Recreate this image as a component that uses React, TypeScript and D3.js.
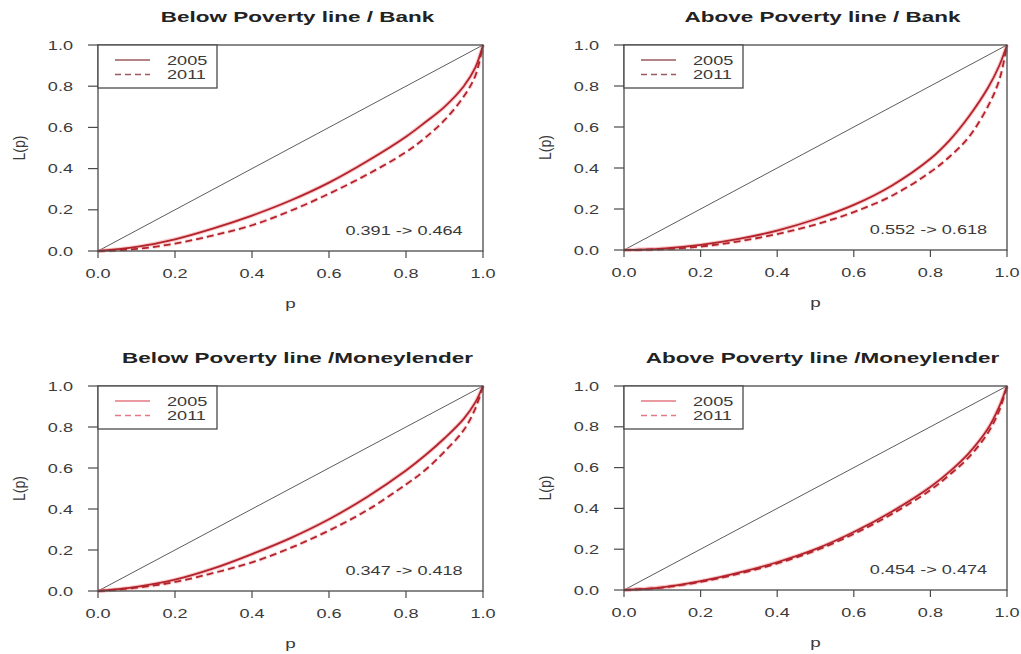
import React from "react";
import * as d3 from "d3";

// Cumulative population share p (x) shared by all Lorenz curves
const pShare = [0, 0.1, 0.2, 0.3, 0.4, 0.5, 0.6, 0.7, 0.8, 0.85, 0.9, 0.95, 0.98, 1.0];

// Lorenz curve values L(p)
const belowBank2005 = [0, 0.02, 0.057, 0.11, 0.172, 0.245, 0.332, 0.437, 0.555, 0.625, 0.7, 0.8, 0.89, 1.0];
const belowBank2011 = [0, 0.01, 0.036, 0.076, 0.125, 0.195, 0.278, 0.372, 0.48, 0.55, 0.635, 0.75, 0.85, 1.0];
const aboveBank2005 = [0, 0.007, 0.025, 0.054, 0.095, 0.15, 0.22, 0.315, 0.445, 0.535, 0.65, 0.79, 0.9, 1.0];
const aboveBank2011 = [0, 0.004, 0.017, 0.042, 0.078, 0.124, 0.185, 0.265, 0.38, 0.455, 0.55, 0.7, 0.83, 1.0];
const belowLender2005 = [0, 0.02, 0.055, 0.11, 0.18, 0.258, 0.35, 0.46, 0.588, 0.662, 0.745, 0.84, 0.92, 1.0];
const belowLender2011 = [0, 0.016, 0.044, 0.088, 0.14, 0.21, 0.295, 0.395, 0.52, 0.59, 0.68, 0.785, 0.89, 1.0];
const aboveLender2005 = [0, 0.013, 0.043, 0.085, 0.136, 0.2, 0.284, 0.385, 0.505, 0.58, 0.67, 0.79, 0.9, 1.0];
const aboveLender2011 = [0, 0.012, 0.04, 0.08, 0.13, 0.193, 0.275, 0.373, 0.49, 0.565, 0.65, 0.77, 0.88, 1.0];

const titles = [
  "Below Poverty line / Bank",
  "Above Poverty line / Bank",
  "Below Poverty line /Moneylender",
  "Above Poverty line /Moneylender",
];
const giniNotes = ["0.391 -> 0.464", "0.552 -> 0.618", "0.347 -> 0.418", "0.454 -> 0.474"];
const seriesNames = ["2005", "2011"];
const tickValues = [0, 0.2, 0.4, 0.6, 0.8, 1.0];

const curves = [
  [belowBank2005, belowBank2011],
  [aboveBank2005, aboveBank2011],
  [belowLender2005, belowLender2011],
  [aboveLender2005, aboveLender2011],
];

// Plot-region pixel boxes (image is stretched horizontally)
const panels = [
  { x0: 98, x1: 483, yTop: 45, yBot: 251 },
  { x0: 624, x1: 1007, yTop: 45, yBot: 250 },
  { x0: 98, x1: 483, yTop: 386, yBot: 591 },
  { x0: 624, x1: 1007, yTop: 386, yBot: 590 },
];

const SX = 1.45; // horizontal text stretch
const FONT = "Liberation Sans, Arial, Helvetica, sans-serif";
const RED = "#b3232b";
const HALO = "#f08a90";
const AXIS = "#4a4a4a";
const TEXT = "#3a3a3a";

function SText({ x, y, children, size = 12.5, anchor = "middle", weight = "normal", fill = TEXT, rotate = 0, sx = SX }: any) {
  return (
    <g transform={`translate(${x},${y}) scale(${sx},1) rotate(${rotate})`}>
      <text textAnchor={anchor} fontSize={size} fontWeight={weight} fill={fill} fontFamily={FONT}>
        {children}
      </text>
    </g>
  );
}

function Panel({ idx }: { idx: number }) {
  const b = panels[idx];
  const x = d3.scaleLinear().domain([0, 1]).range([b.x0, b.x1]);
  const y = d3.scaleLinear().domain([0, 1]).range([b.yBot, b.yTop]);
  const line = d3
    .line<number>()
    .x((_, i) => x(pShare[i]))
    .y((d) => y(d))
    .curve(d3.curveCatmullRom.alpha(0.5));
  const [s05, s11] = curves[idx];
  const bottomRow = idx >= 2;
  const legendColor = bottomRow ? "#e27a82" : "#9a5a5e";
  const midX = (b.x0 + b.x1) / 2;

  return (
    <g>
      {/* title */}
      <SText x={midX + 7} y={b.yTop - 23} size={15.5} weight="bold" fill="#222">
        {titles[idx]}
      </SText>

      {/* diagonal of equality */}
      <line x1={x(0)} y1={y(0)} x2={x(1)} y2={y(1)} stroke="#333" strokeWidth={0.8} />

      {/* Lorenz curves with soft halo */}
      <path d={line(s05) || ""} fill="none" stroke={HALO} strokeWidth={4} strokeOpacity={0.45} />
      <path d={line(s11) || ""} fill="none" stroke={HALO} strokeWidth={4} strokeOpacity={0.35} strokeDasharray="7,4" />
      <path d={line(s05) || ""} fill="none" stroke={RED} strokeWidth={1.8} />
      <path d={line(s11) || ""} fill="none" stroke={RED} strokeWidth={1.8} strokeDasharray="7,4" />

      {/* box */}
      <rect x={b.x0} y={b.yTop} width={b.x1 - b.x0} height={b.yBot - b.yTop} fill="none" stroke={AXIS} strokeWidth={1.3} />

      {/* x axis ticks */}
      {tickValues.map((t) => (
        <g key={"x" + t}>
          <line x1={x(t)} x2={x(t)} y1={b.yBot} y2={b.yBot + 7} stroke={AXIS} strokeWidth={1.2} />
          <SText x={x(t)} y={b.yBot + 27}>{t.toFixed(1)}</SText>
        </g>
      ))}

      {/* y axis ticks */}
      {tickValues.map((t) => (
        <g key={"y" + t}>
          <line x1={b.x0 - 10} x2={b.x0} y1={y(t)} y2={y(t)} stroke={AXIS} strokeWidth={1.2} />
          <SText x={b.x0 - 25} y={y(t) + 4.5} anchor="end">{t.toFixed(1)}</SText>
        </g>
      ))}

      {/* axis labels */}
      <SText x={midX} y={b.yBot + 57} size={13}>p</SText>
      <SText x={b.x0 - 73} y={(b.yTop + b.yBot) / 2} size={14} rotate={-90} sx={1.15}>L(p)</SText>

      {/* legend */}
      <rect x={b.x0} y={b.yTop} width={119} height={43} fill="white" stroke={AXIS} strokeWidth={1.3} />
      {seriesNames.map((name, i) => (
        <g key={name}>
          <line
            x1={b.x0 + 17}
            x2={b.x0 + 52}
            y1={b.yTop + 15 + i * 14.5}
            y2={b.yTop + 15 + i * 14.5}
            stroke={legendColor}
            strokeWidth={1.5}
            strokeDasharray={i === 1 ? "6,4" : undefined}
          />
          <SText x={b.x0 + 69} y={b.yTop + 19.5 + i * 14.5} anchor="start">{name}</SText>
        </g>
      ))}

      {/* Gini change note */}
      <SText x={x(0.795)} y={y(0.1) + 4.5}>{giniNotes[idx]}</SText>
    </g>
  );
}

export default function App() {
  return (
    <svg
      width={1021}
      height={654}
      style={{ position: "absolute", left: 0, top: 0, background: "white" }}
    >
      <rect width={1021} height={654} fill="white" />
      {panels.map((_, i) => (
        <Panel key={i} idx={i} />
      ))}
    </svg>
  );
}
